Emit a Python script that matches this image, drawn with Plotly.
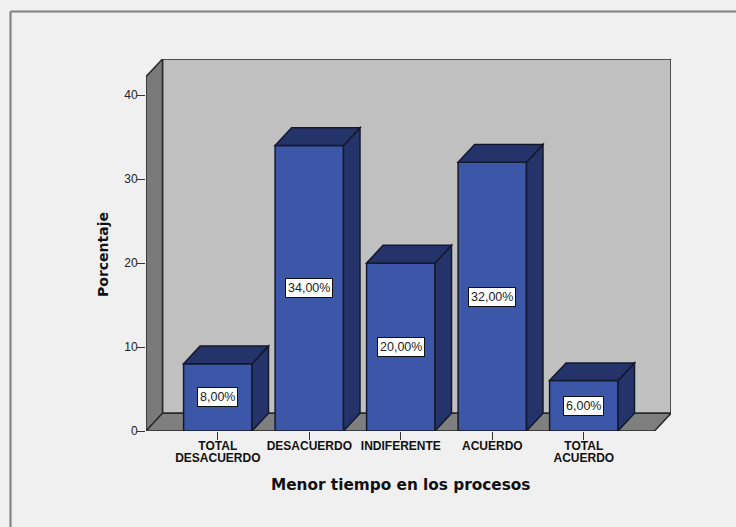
import plotly.graph_objects as go

categories = ["TOTAL<br>DESACUERDO", "DESACUERDO", "INDIFERENTE", "ACUERDO", "TOTAL<br>ACUERDO"]
values = [8, 34, 20, 32, 6]
labels = ["8,00%", "34,00%", "20,00%", "32,00%", "6,00%"]
y_ticks = [0, 10, 20, 30, 40]

W, H = 736, 527
L, R, T, B = 146, 671, 59, 431
PX_PER_CAT = 91.5
PX_PER_UNIT = 8.4
X0 = (146 - 217.8) / PX_PER_CAT
X1 = (671 - 217.8) / PX_PER_CAT
Y1 = (431 - 59) / PX_PER_UNIT
DX = 16.5 / PX_PER_CAT
DY = 17.7 / PX_PER_UNIT
BAR_W = 68.4 / PX_PER_CAT

WALL = "#c0c0c0"
FLOOR = "#7f7f7f"
SIDEWALL = "#7a7a7a"
FRONT = "#3c57a8"
DARK = "#24346a"
EDGE = "#14182c"
BG = "#f0f0f0"
FRAME = "#7d7d7d"


def px_x(p):
    return (p - L) / (R - L)


def px_y(p):
    return (B - p) / (B - T)


def poly(pts, fill, line=EDGE, width=1.5, layer="below"):
    path = "M " + " L ".join(f"{x},{y}" for x, y in pts) + " Z"
    return dict(type="path", path=path, fillcolor=fill, xref="x", yref="y",
                line=dict(color=line, width=width), layer=layer)


x_front_right = X1 - DX
y_top_front = Y1 - DY
shapes = [
    dict(type="line", xref="paper", yref="paper", x0=px_x(10.5), x1=px_x(736),
         y0=px_y(11.5), y1=px_y(11.5), line=dict(color=FRAME, width=2), layer="below"),
    dict(type="line", xref="paper", yref="paper", x0=px_x(10.5), x1=px_x(10.5),
         y0=px_y(11.5), y1=px_y(527), line=dict(color=FRAME, width=2), layer="below"),
    poly([(X0 + DX, DY), (X0 + DX, Y1), (X1, Y1), (X1, DY)], WALL, line="#2a2a2a"),
    poly([(X0, 0), (X0, y_top_front), (X0 + DX, Y1), (X0 + DX, DY)], SIDEWALL, line="#2a2a2a"),
    poly([(X0, 0), (X0 + DX, DY), (X1, DY), (x_front_right, 0)], FLOOR, line="#2a2a2a"),
]

for i, v in enumerate(values):
    xl, xr = i - BAR_W / 2, i + BAR_W / 2
    shapes.append(poly([(xr, 0), (xr + DX, DY), (xr + DX, v + DY), (xr, v)], DARK, layer="above"))
    shapes.append(poly([(xl, v), (xl + DX, v + DY), (xr + DX, v + DY), (xr, v)], DARK, layer="above"))

fig = go.Figure(go.Bar(
    x=list(range(len(values))), y=values, width=BAR_W,
    marker=dict(color=FRONT, line=dict(color=EDGE, width=1.5)),
    hoverinfo="skip", cliponaxis=False,
))

annotations = [
    dict(x=i, y=v / 2, xref="x", yref="y", text=t, showarrow=False,
         bgcolor="white", bordercolor="#111111", borderwidth=1, borderpad=2,
         font=dict(family="Liberation Sans", size=12.5, color="#222222"))
    for i, (v, t) in enumerate(zip(values, labels))
]
annotations += [
    dict(x=px_x(400), y=px_y(485), xref="paper", yref="paper", xanchor="center", yanchor="middle",
         text="<b>Menor tiempo en los procesos</b>", showarrow=False,
         font=dict(family="DejaVu Sans", size=15.3, color="#111111")),
    dict(x=px_x(103), y=px_y(255), xref="paper", yref="paper", xanchor="center", yanchor="middle",
         text="<b>Porcentaje</b>", textangle=-90, showarrow=False,
         font=dict(family="DejaVu Sans", size=14, color="#111111")),
]

fig.update_layout(
    width=W, height=H, autosize=False,
    margin=dict(l=L, r=W - R, t=T, b=H - B, pad=0),
    paper_bgcolor=BG, plot_bgcolor="rgba(0,0,0,0)",
    showlegend=False, shapes=shapes, annotations=annotations,
    xaxis=dict(range=[X0, X1], tickmode="array", tickvals=list(range(len(values))),
               ticktext=[f"<b>{c}</b>".replace("<br>", "</b><br><b>") for c in categories],
               ticks="outside", ticklen=8, tickwidth=1,
               tickcolor="#333333", showgrid=False, zeroline=False, showline=False,
               tickangle=0, ticklabelstandoff=-4,
               tickfont=dict(family="Liberation Sans", size=12, color="#111111")),
    yaxis=dict(range=[0, Y1], tickmode="array", tickvals=y_ticks, ticks="outside",
               ticklen=8, tickwidth=1, tickcolor="#333333", showgrid=False,
               zeroline=False, showline=False, ticklabelstandoff=-3,
               tickfont=dict(family="Liberation Sans", size=12, color="#222222")),
)

post = """
document.documentElement.style.background = '#f0f0f0';
document.body.style.margin = '0';
document.body.style.background = '#f0f0f0';
document.body.style.overflow = 'hidden';
document.querySelectorAll('.xtick text tspan.line').forEach(function (t) {
  if (parseFloat(t.getAttribute('dy') || '0') > 0) { t.setAttribute('dy', '1.0em'); }
});
"""
fig.write_html("out.html", post_script=post, config={"displayModeBar": False})
